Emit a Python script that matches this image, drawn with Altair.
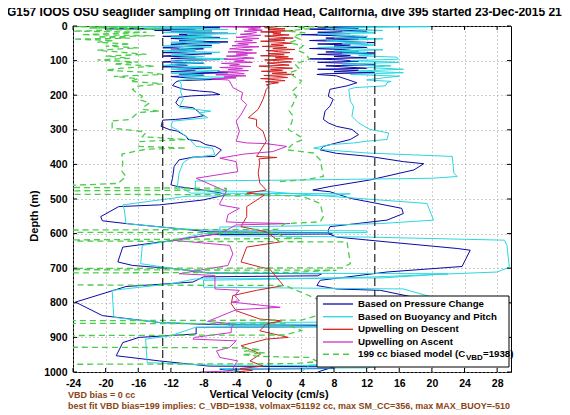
import altair as alt
import pandas as pd

# ---------------- data (depth m, vertical velocity cm/s) ----------------
blue_descent = [
    (0,-4),(3,-10),(5,-6),(8,-20),(10,-9),(13,-14),(15,-7),(18,-12),(21,-5),(24,-11),
    (27,-8),(30,-13),(33,-6),(36,-12),(40,-9),(43,-11),(46,-5),(50,-10),(53,-12),(56,-7),
    (60,-11),(63,-13),(66,-8),(70,-12),(73,-9),(77,-13),(80,-7),(84,-11),(87,-13),(90,-9),
    (94,-12),(97,-6),(100,-11),(104,-13),(107,-8),(111,-12),(114,-10),(118,-13),(121,-7),(125,-11),
    (128,-9),(132,-12),(135,-5),(139,-11),(142,-8),(146,-12),(150,-10),(154,-6),(158,-11),
    (162,-11.4),(172,-11.8),(181,-10.7),(184,-10.1),(188,-8.5),(191,-6.9),(198,-6.0),(200,-7.7),
    (202,-9.5),(206,-11.0),(222,-11.4),(232,-11.0),(236,-9.3),(246,-8.7),(256,-8.3),(259,-7.9),
    (265,-9.3),(270,-11.4),(272,-13.0),(290,-13.2),(299,-12.2),(304,-11.2),(319,-10.1),(328,-9.9),
    (333,-8.5),(343,-7.7),(348,-6.6),(358,-5.8),(377,-6.6),(379,-9.3),(387,-11.0),(406,-11.6),
    (440,-11.8),(459,-12.0),(464,-11.2),(474,-8.1),(482,-6.0),(488,-5.2),(503,-8.1),(517,-13.4),
    (522,-18.4),(551,-20.6),(563,-20.4),(571,-17.5),(585,-11.4),(595,-7.3),(597,7.3),(601,7.8),
    (603,-7.0),(621,-12.2),(639,-17.9),(682,-18.5),(692,-16.7),(702,-11.4),(714,-7.3),(716,6.5),
    (722,6.0),(725,-8.0),(740,-9.3),(753,-17.5),(798,-23.7),(837,-20.4),(857,-13.4),(863,-6.9),
    (865,7.0),(869,7.5),(871,-8.9),(890,-8.9),(900,-15.9),(915,-17.9),(953,-18.7),(968,-13.4),
    (983,-7.3),(985,8.0),(990,8.0),(992,-6.0),(1000,-3.0),
]
blue_ascent = [
    (0,14),(3,6),(6,11),(9,5),(12,9),(15,12),(18,6),(22,10),(25,4),(28,8),(32,12),(35,7),
    (38,11),(42,5),(45,9),(48,13),(52,6),(55,10),(58,8),(62,12),(65,5),(68,9),(72,11),(75,7),
    (78,13),(82,6),(85,10),(88,8),(92,12),(95,5),(98,9),(102,11),(105,6),(108,10),(112,13),
    (115,7),(118,9),(122,12),(125,6),(128,11),(132,8),(135,13),(138,7),
    (140,5.9),(144,8.3),(164,10.8),(173,9.6),(183,7.5),(203,7.3),(212,7.9),(232,7.5),(246,6.9),
    (270,6.7),(280,7.3),(290,8.3),(299,10.2),(314,11.0),(328,10.0),(338,8.3),(348,6.7),(358,6.3),
    (368,8.3),(377,12.4),(392,16.5),(398,19.0),(416,17.8),(445,12.4),(464,7.5),(474,5.4),(479,7.5),
    (498,10.0),(513,13.3),(527,16.3),(542,16.5),(561,14.5),(580,7.5),(590,7.3),(600,7.3),(610,8.3),
    (624,14.5),(643,23.1),(648,24.7),(695,23.7),(711,14.5),(735,6.3),(750,5.9),(760,8.3),(764,13.7),
    (790,19.0),(820,21.0),(850,15.0),(862,8.0),(868,7.5),(880,10.0),(900,15.0),(930,18.0),(960,16.0),
    (975,10.0),(985,8.0),(1000,6.0),
]
cyan_descent = [
    (0,-6),(2,-20),(4,-8),(7,-15),(10,-5),(13,-12),(16,-7),(19,-13),(22,-4),(25,-10),(29,-7),
    (32,-12),(36,-5),(39,-11),(43,-8),(47,-12),(50,-6),(54,-10),(58,-13),(61,-7),(65,-11),(69,-9),
    (72,-13),(76,-6),(80,-10),(84,-12),(88,-8),(91,-11),(95,-5),(99,-10),(103,-12),(106,-8),
    (110,-11),(114,-13),(118,-7),(121,-10),(125,-12),(129,-6),(133,-9),(137,-12),(141,-8),
    (145,-11),(149,-4),(153,-9),(157,-11),
    (169,-10.7),(190,-10.8),(212,-10.5),(236,-11.0),(246,-7.1),(251,-8.5),(265,-7.5),(275,-11.8),
    (290,-12.0),(304,-11.0),(323,-9.9),(348,-8.9),(353,-6.9),(372,-6.6),(382,-9.7),(396,-10.5),
    (425,-11.0),(464,-11.2),(469,-10.7),(483,-9.5),(485,10.0),(489,8.0),(492,-10.0),(517,-17.9),
    (532,-17.7),(571,-17.5),(585,-11.4),(590,-7.5),(592,12.0),(597,12.0),(600,-8.0),(621,-12.0),
    (634,-15.5),(687,-15.7),(702,-11.4),(714,-7.3),(716,22.0),(728,14.0),(731,-9.0),(745,-12.0),
    (764,-19.2),(842,-19.0),(857,-13.4),(861,-7.0),(863,12.0),(868,12.0),(871,-9.0),(895,-12.0),
    (905,-15.1),(973,-14.9),(980,-7.0),(982,14.0),(988,12.0),(990,-6.0),(1000,-3.0),
]
cyan_ascent = [
    (0,8),(2,19.8),(4,12),(7,7),(10,11),(13,14),(16,9),(20,13),(23,6),(27,10),(30,12),(34,8),
    (37,14),(41,10),(44,7),(48,12),(51,9),(55,13),(58,11),(62,6),(65,10),(69,14),(72,8),(76,12),
    (79,9),(83,13),(86,11),(90,15.7),(96,15.9),(100,10),(105,16),(110,9),(115,15),(120,12),
    (125,16.5),(130,11),(135,16.5),(140,10),(145,16),(150,14),(156,12),(160,15),
    (164,14.5),(173,14.3),(178,10.6),(183,9.8),(217,10.0),(232,10.4),(261,10.2),(280,11.0),
    (299,12.4),(309,14.7),(328,14.5),(333,12.0),(338,10.4),(343,7.5),(353,5.5),(358,7.0),(367,12.0),
    (377,22.5),(425,22.7),(435,23.1),(440,20.0),(445,4.0),(448,-9.0),(476,-9.0),(479,0.0),(513,19.4),
    (561,20.2),(571,13.7),(578,3.0),(581,-6.0),(606,-6.0),(610,12.0),(619,28.9),(634,29.2),
    (697,29.5),(711,28.0),(726,12.0),(731,2.0),(735,-8.0),(755,-8.0),(760,16.5),(790,21.0),
    (820,22.0),(845,18.0),(855,10.0),(858,-5.0),(866,-5.0),(870,10.0),(900,16.0),(940,18.0),
    (970,14.0),(980,5.0),(1000,4.0),
]
red_descent_upwelling = [
    (2,1.0),(5,-0.5),(8,2.0),(11,0.0),(14,3.0),(17,-1.0),(20,1.5),(23,0.5),(26,2.5),(29,-0.5),
    (32,1.0),(35,3.0),(38,0.0),(41,2.0),(44,-1.0),(47,1.5),(50,2.8),(53,0.3),(56,1.8),(59,-0.8),
    (62,2.2),(65,0.5),(68,3.2),(71,-0.3),(74,1.2),(77,2.6),(80,0.0),(83,1.9),(86,-1.0),(89,2.4),
    (92,0.8),(95,3.0),(98,-0.5),(101,1.5),(104,2.8),(107,-0.2),(110,1.1),(113,2.5),(116,-1.2),
    (119,0.6),(122,2.9),(125,0.2),(128,1.7),(131,-0.9),(134,2.2),(137,0.4),(140,3.1),(143,-0.6),
    (146,1.4),(149,2.3),(152,-1.0),(155,0.8),(158,2.0),(161,-0.4),(164,1.2),(167,0.3),(170,-0.3),
    (175,0.0),(183,-0.3),(212,-0.7),(241,-1.3),(265,-2.5),(270,-1.5),(290,-1.5),(304,-0.7),
    (333,-0.3),(363,-1.1),(377,-1.5),(380,1.0),(384,-1.2),(396,-1.1),(425,-1.3),(454,-1.1),
    (474,-0.3),(483,-2.7),(488,-0.5),(522,-2.7),(551,-2.7),(580,-3.4),(595,-0.3),(624,1.4),
    (639,-2.7),(682,-3.4),(697,-1.0),(702,0.1),(750,1.8),(764,-1.5),(779,-4.4),(803,-4.6),
    (823,-4.0),(847,-1.1),(852,1.6),(861,-0.3),(881,-1.1),(900,2.4),(905,-0.3),(924,-3.4),
    (948,-1.0),(968,-2.3),(983,-0.7),(990,-3.5),(995,-2.0),(1000,-4.0),
]
magenta_ascent_upwelling = [
    (0,-0.5),(2,-6.0),(5,-1.0),(9,-2.5),(12,-0.8),(15,-3.0),(18,-1.5),(21,-2.0),(24,-3.5),
    (27,-1.0),(30,-2.8),(33,-4.0),(36,-1.2),(39,-3.2),(42,-2.0),(45,-4.2),(48,-1.5),(51,-3.8),
    (54,-2.5),(57,-4.5),(60,-1.2),(63,-3.5),(66,-4.8),(69,-2.0),(72,-3.0),(75,-5.0),(78,-1.5),
    (81,-4.0),(84,-2.6),(87,-5.2),(90,-3.3),(93,-1.8),(96,-5.5),(99,-3.0),(102,-4.2),(105,-2.0),
    (108,-5.8),(111,-3.6),(114,-4.8),(117,-2.2),(120,-6.0),(123,-3.2),(126,-5.0),(129,-2.5),
    (132,-6.3),(135,-4.0),(138,-3.0),(141,-6.5),(144,-2.8),(147,-5.5),(150,-4.0),(153,-7.0),
    (156,-5.0),(159,-4.8),(178,-4.4),(193,-3.2),(212,-3.4),(227,-2.7),(256,-3.4),(275,-4.0),
    (304,-3.6),(333,-4.0),(338,-2.7),(340,-0.3),(348,2.2),(363,0.5),(370,-3.0),(382,-6.0),
    (392,-4.0),(421,-3.8),(440,-8.9),(478,-5.2),(512,-6.0),(517,-6.0),(527,-3.6),(545,-5.0),
    (566,-5.2),(568,-3.5),(571,2.6),(575,-4.0),(600,-6.0),(619,-11.8),(634,-4.8),(658,-4.4),
    (692,-5.0),(716,-11.0),(721,-6.6),(760,-6.6),(764,-3.6),(779,-4.2),(794,-3.6),(798,-4.5),
    (813,1.4),(820,-4.0),(854,-7.5),(861,-4.2),(871,-4.6),(886,-4.6),(900,-9.1),(905,-9.3),
    (910,-4.0),(929,-4.8),(939,-6.4),(958,-6.0),(968,-3.8),(973,-4.0),(997,-4.5),(1000,-8.5),
]
green_model_descent = [
    (0,-14),(2,-24),(4,-16),(6,-22),(9,-13),(12,-20),(15,-24),(18,-15),(21,-18),(25,-23),
    (28,-14),(32,-21),(35,-17),(38,-24),(42,-19),(47,-21),(52,-17),(58,-20),(63,-16),(70,-21),
    (76,-18),(82,-15),(87,-20),(93,-17),(98,-21),(104,-16),(110,-19),(116,-14),(122,-18),
    (128,-20),(134,-15),(140,-13),(146,-19),(152,-16),(160,-17),(167,-13),(174,-16),(183,-16.7),
    (193,-16.2),(203,-15.5),(213,-15.9),(222,-14.6),(232,-15.2),(241,-15.5),(246,-13.4),(250,-16.0),
    (270,-17.0),(275,-19.4),(280,-19.2),(295,-19.2),(305,-15.5),(309,-15.1),(320,-15.5),(328,-10.1),
    (334,-15.9),(343,-15.9),(348,-15.9),(353,-10.1),(356,-15.0),(370,-18.0),(396,-17.9),(420,-18.0),
    (435,-17.5),(455,-18.5),(466,-30),
]
green_model_ascent = [
    (0,0.0),(1,8.3),(3,3.4),(8,5.0),(14,2.0),(20,4.5),(29,3.0),(38,3.8),(48,2.5),(57,4.2),
    (70,3.5),(80,4.5),(96,5.0),(110,3.2),(125,3.8),(135,2.5),(144,3.0),(159,4.0),(175,3.5),
    (190,2.8),(203,3.4),(225,3.0),(245,2.5),(261,3.0),(280,2.8),(299,2.4),(319,3.8),(328,4.2),
    (340,3.0),(358,2.2),(367,5.5),(387,6.3),(410,6.5),(435,6.7),(445,4.2),(450,1.0),
]
green_model_deep = [
    (466,-30),(469,-5.2),(474,-5.2),(477,-30),(486,-30),(488,0.5),(493,4.2),(513,6.3),(551,6.7),
    (566,6.3),(571,2.0),(588,1.0),(590,-30),(596,-30),(598,1.0),(612,2.0),(614,4.2),(619,-30),
    (621,-30),(624,9.6),(687,10.0),(699,9.0),(701,-30),(704,-30),(706,8.3),(712,3.0),(714,-30),
    (748,-30),(750,2.0),(790,6.0),(830,7.0),(850,4.0),(852,-30),(859,-30),(861,2.0),(880,4.0),
    (893,2.0),(895,-30),(928,-30),(930,-3.6),(935,-1.0),(940,-3.0),(945,-0.5),(950,-3.3),
    (955,-1.0),(958,5.0),(970,6.0),(976,3.0),(978,-30),(1000,-30),
]

x_ticks = [-24, -20, -16, -12, -8, -4, 0, 4, 8, 12, 16, 20, 24, 28]
y_ticks = [0, 100, 200, 300, 400, 500, 600, 700, 800, 900, 1000]
zero_line = [0]
bound_lines = [-13, 13]

legend_labels = ["Based on Pressure Change", "Based on Buoyancy and Pitch",
                 "Upwelling on Descent", "Upwelling on Ascent"]
legend_colors = ["#0a0aa8", "#2ad8e0", "#d42020", "#cc30cc"]
green_color = "#4ccc4c"

title_text = ("SG157 IOOS OSU seaglider sampling off Trinidad Head, California, "
              "dive 395 started 23-Dec-2015 21:43")
note1 = "VBD bias = 0 cc"
note2 = ("best fit VBD bias=199 implies: C_VBD=1938, volmax=51192 cc, "
         "max SM_CC=356, max MAX_BUOY=-510")

# ---------------- build table ----------------
rows = []
for name, part, pts in [
    ("blue", "d", blue_descent), ("blue", "a", blue_ascent),
    ("cyan", "d", cyan_descent), ("cyan", "a", cyan_ascent),
    ("red", "d", red_descent_upwelling),
    ("magenta", "a", magenta_ascent_upwelling),
    ("green", "d", green_model_descent), ("green", "a", green_model_ascent),
    ("green", "x", green_model_deep),
]:
    for i, (d, v) in enumerate(pts):
        rows.append({"series": name, "part": part, "idx": i, "depth": d, "vel": v})
df = pd.DataFrame(rows)

FONT = "Liberation Sans"
W, H = 438, 346

xscale = alt.Scale(domain=[-24, 29.7], nice=False, zero=False)
yscale = alt.Scale(domain=[0, 1000], reverse=True, nice=False, zero=False)

xaxis = alt.Axis(values=x_ticks, title=None, grid=True, gridColor="#a0a0a0",
                 gridDash=[1, 3], gridWidth=1, ticks=False, domain=False,
                 labelFont=FONT, labelFontWeight="bold", labelFontSize=10.5,
                 labelColor="black", labelPadding=6, labelExpr="'' + datum.value",
                 labelFlush=False, labelOverlap=False)
yaxis = alt.Axis(values=y_ticks, title=None, grid=True, gridColor="#a0a0a0",
                 gridDash=[1, 3], gridWidth=1, ticks=False, domain=False,
                 labelFont=FONT, labelFontWeight="bold", labelFontSize=10.5,
                 labelColor="black", labelPadding=6, labelExpr="'' + datum.value",
                 labelFlush=False, labelOverlap=False)

base = alt.Chart(df)


def series_layer(name, color, width=1.0, dash=None):
    kw = dict(color=color, strokeWidth=width, clip=True)
    if dash:
        kw["strokeDash"] = dash
    return base.transform_filter(alt.datum.series == name).mark_line(**kw).encode(
        x=alt.X("vel:Q", scale=xscale, axis=xaxis),
        y=alt.Y("depth:Q", scale=yscale, axis=yaxis),
        detail="part:N",
        order="idx:Q",
    )


layers = [
    series_layer("blue", legend_colors[0]),
    series_layer("cyan", legend_colors[1]),
    series_layer("red", legend_colors[2]),
    series_layer("magenta", legend_colors[3]),
    series_layer("green", green_color, 1.3, [6, 4]),
]

layers.append(alt.Chart(pd.DataFrame({"vel": zero_line})).mark_rule(
    color="#333333", strokeWidth=1).encode(x=alt.X("vel:Q", scale=xscale, axis=xaxis)))
layers.append(alt.Chart(pd.DataFrame({"vel": bound_lines})).mark_rule(
    color="#222222", strokeWidth=1.2, strokeDash=[8, 4]).encode(
    x=alt.X("vel:Q", scale=xscale, axis=xaxis)))

# inward tick marks on all four sides (MATLAB box style)
xt = pd.DataFrame({"vel": x_ticks})
yt = pd.DataFrame({"depth": y_ticks})
for y0, y1 in [(H, H - 4), (0, 4)]:
    layers.append(alt.Chart(xt).mark_rule(color="black", strokeWidth=1).encode(
        x=alt.X("vel:Q", scale=xscale, axis=xaxis), y=alt.value(y0), y2=alt.value(y1)))
for x0, x1 in [(0, 4), (W, W - 4)]:
    layers.append(alt.Chart(yt).mark_rule(color="black", strokeWidth=1).encode(
        y=alt.Y("depth:Q", scale=yscale, axis=yaxis), x=alt.value(x0), x2=alt.value(x1)))

dummy = pd.DataFrame({"k": [0]})

# legend box
layers.append(alt.Chart(dummy).mark_rect(fill="white", stroke="black", strokeWidth=1).encode(
    x=alt.value(244), x2=alt.value(436), y=alt.value(270), y2=alt.value(341)))
row_y = [278, 290.7, 303.3, 316, 328.3]
for i, (lab, col) in enumerate(zip(legend_labels, legend_colors)):
    layers.append(alt.Chart(dummy).mark_rule(color=col, strokeWidth=1.3).encode(
        x=alt.value(250), x2=alt.value(280), y=alt.value(row_y[i])))
    layers.append(alt.Chart(dummy).mark_text(
        text=lab, font=FONT, fontWeight="bold", fontSize=9.7, align="left",
        baseline="middle", color="black").encode(x=alt.value(285), y=alt.value(row_y[i])))
layers.append(alt.Chart(dummy).mark_rule(color=green_color, strokeWidth=1.5, strokeDash=[6, 4]).encode(
    x=alt.value(250), x2=alt.value(280), y=alt.value(row_y[4])))
layers.append(alt.Chart(dummy).mark_text(
    text="199 cc biased model (C", font=FONT, fontWeight="bold", fontSize=9.7, align="left",
    baseline="middle", color="black").encode(x=alt.value(285), y=alt.value(row_y[4])))
layers.append(alt.Chart(dummy).mark_text(
    text="VBD", font=FONT, fontWeight="bold", fontSize=8, align="left",
    baseline="middle", color="black").encode(x=alt.value(393), y=alt.value(row_y[4] + 4)))
layers.append(alt.Chart(dummy).mark_text(
    text="=1938)", font=FONT, fontWeight="bold", fontSize=9.7, align="left",
    baseline="middle", color="black").encode(x=alt.value(410), y=alt.value(row_y[4])))

# titles and notes
layers.append(alt.Chart(dummy).mark_text(
    text=title_text, font=FONT, fontWeight="bold", fontSize=12, align="center",
    baseline="middle", color="black").encode(x=alt.value(216), y=alt.value(-14)))
layers.append(alt.Chart(dummy).mark_text(
    text="Vertical Velocity (cm/s)", font=FONT, fontWeight="bold", fontSize=11,
    align="center", baseline="middle", color="black").encode(x=alt.value(196), y=alt.value(369)))
layers.append(alt.Chart(dummy).mark_text(
    text="Depth (m)", font=FONT, fontWeight="bold", fontSize=11, angle=270,
    align="center", baseline="middle", color="black").encode(x=alt.value(-38), y=alt.value(190)))
layers.append(alt.Chart(dummy).mark_text(
    text=note1, font=FONT, fontWeight="bold", fontSize=9, align="left",
    baseline="middle", color="#8B4513").encode(x=alt.value(-5), y=alt.value(369)))
layers.append(alt.Chart(dummy).mark_text(
    text=note2, font=FONT, fontWeight="bold", fontSize=9, align="left",
    baseline="middle", color="#8B4513").encode(x=alt.value(-5), y=alt.value(380)))

chart = alt.layer(*layers).properties(
    width=W, height=H,
    padding={"left": 65, "top": 18, "right": 51, "bottom": 38},
    autosize=alt.AutoSizeParams(type="none"),
).configure_view(stroke="black", strokeWidth=1)

chart.save("out.html", embed_options={"renderer": "svg", "actions": False})
